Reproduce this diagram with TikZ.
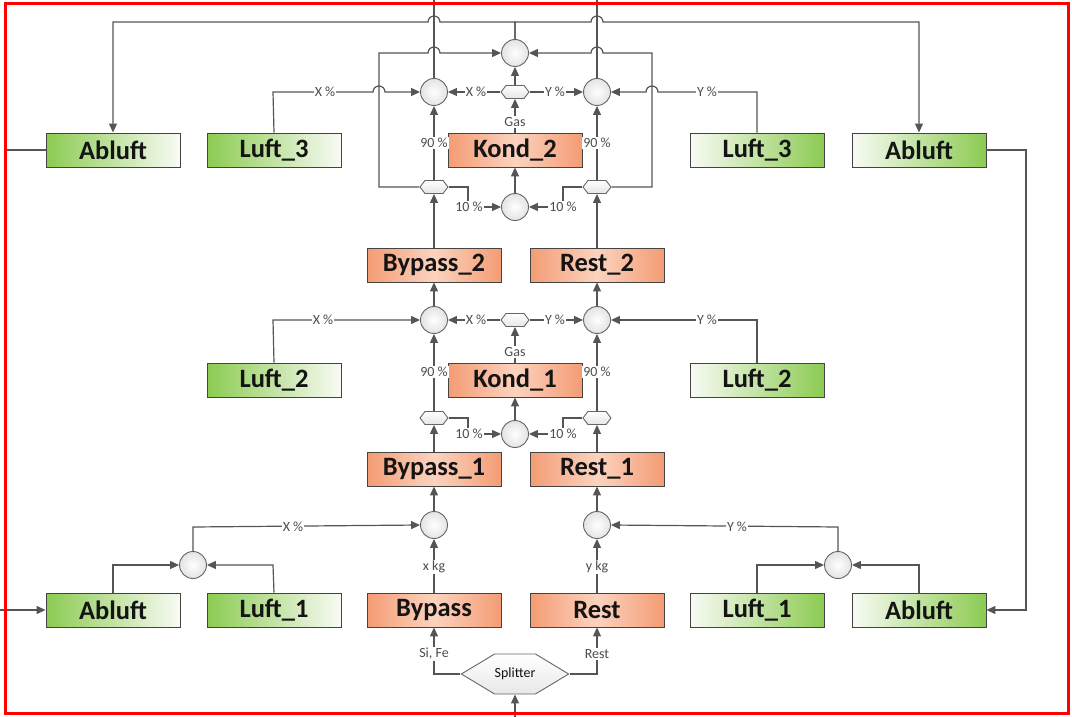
\documentclass[tikz,border=0pt]{standalone}
\usepackage{fontspec}
\setmainfont{Carlito}
\usetikzlibrary{arrows.meta,shapes.symbols}
\definecolor{ln}{HTML}{555555}
\definecolor{grn}{HTML}{8CCB52}
\definecolor{grnw}{HTML}{F8FBF4}
\definecolor{org}{HTML}{F49C74}
\definecolor{orgl}{HTML}{FBD3BF}
\definecolor{txt}{HTML}{141414}
\definecolor{lbltxt}{HTML}{4D4D4D}
\tikzset{
  box/.style={rectangle, draw=ln!80!black, line width=0.9pt, minimum width=134, minimum height=34,
    inner sep=0, text=txt, font=\fontsize{26.5}{30}\selectfont\bfseries},
  gboxL/.style={box, left color=grn, right color=grnw},
  gboxR/.style={box, left color=grnw, right color=grn},
  obox/.style={box, left color=org, right color=org, middle color=orgl},
  mix/.style={circle, draw=ln!90, line width=0.9pt, minimum size=27, inner sep=0,
    shading=radial, inner color=white, outer color=gray!22},
  hexs/.style={signal, signal to=east and west, signal pointer angle=105, draw=ln!90, line width=0.9pt,
    minimum width=28, minimum height=13, inner sep=0, top color=white, bottom color=gray!20},
  splitbox/.style={signal, signal to=east and west, signal pointer angle=62, draw=ln!90, line width=0.9pt,
    minimum width=103, minimum height=40, inner sep=0, top color=white, bottom color=gray!18,
    font=\fontsize{14}{16}\selectfont, text=txt},
  lbl/.style={fill=white, inner sep=1pt, text=lbltxt, font=\fontsize{14}{16}\selectfont},
  conn/.style={draw=ln, line width=1.2pt},
  arr/.style={conn, -{Triangle[length=9pt,width=8pt]}},
}
\begin{document}
\begin{tikzpicture}[x=1pt,y=-1pt]
\useasboundingbox (0,0) rectangle (1072,717);

% ---- boxes ----
\node[gboxL] (abTL) at (113,150) {Abluft};
\node[gboxL] (l3L)  at (274,150) {Luft\_3};
\node[obox]  (k2)   at (515,150) {Kond\_2};
\node[gboxR] (l3R)  at (757,150) {Luft\_3};
\node[gboxR] (abTR) at (919,150) {Abluft};

\node[obox] (b2) at (434,265) {Bypass\_2};
\node[obox] (r2) at (597,265) {Rest\_2};

\node[gboxL] (l2L) at (274,380) {Luft\_2};
\node[obox]  (k1)  at (515,380) {Kond\_1};
\node[gboxR] (l2R) at (757,380) {Luft\_2};

\node[obox] (b1) at (434,469) {Bypass\_1};
\node[obox] (r1) at (597,469) {Rest\_1};

\node[gboxL] (abBL) at (113,610) {Abluft};
\node[gboxL] (l1L)  at (274,610) {Luft\_1};
\node[obox]  (byp)  at (434,610) {Bypass};
\node[obox]  (rst)  at (597,610) {Rest};
\node[gboxR] (l1R)  at (757,610) {Luft\_1};
\node[gboxR] (abBR) at (919,610) {Abluft};

% ---- mixers and splitters ----
\node[mix] (mT)  at (515,53) {};
\node[mix] (mTL) at (434,92) {};
\node[mix] (mTR) at (597,92) {};
\node[hexs] (hG2) at (515,92) {};
\node[hexs] (hL2) at (434,187) {};
\node[hexs] (hR2) at (597,187) {};
\node[mix] (mK2) at (515,207) {};

\node[mix] (mML) at (434,320) {};
\node[mix] (mMR) at (597,320) {};
\node[hexs] (hG1) at (515,320) {};
\node[hexs] (hL1) at (434,418) {};
\node[hexs] (hR1) at (597,418) {};
\node[mix] (mK1) at (515,434) {};

\node[mix] (m1L) at (434,525) {};
\node[mix] (m1R) at (597,525) {};
\node[mix] (mAL) at (193,565) {};
\node[mix] (mAR) at (838,565) {};

\node[splitbox] (split) at (515,674) {Splitter};

% ---- free ends ----
\coordinate (top)   at (515,22);
\coordinate (outL)  at (434,0);
\coordinate (outR)  at (597,0);
\coordinate (inS)   at (515,717);
\coordinate (edgeT) at (5,150);
\coordinate (edgeB) at (0,610);

% ---- exhaust collection at the top ----
\draw[conn] (mTL.north) -- (outL);
\draw[conn] (mTR.north) -- (outR);
\draw[arr] (mT.north) -- (top) -- (440,22) arc[start angle=0,end angle=-180,radius=6] -- (113,22) -- (abTL.north);
\draw[arr] (mT.north) -- (top) -- (591,22) arc[start angle=180,end angle=360,radius=6] -- (919,22) -- (abTR.north);

% ---- level 3 ----
\draw[arr] (hL2.west) -- (379,187) -- (379,53) -- (428,53) arc[start angle=180,end angle=360,radius=6] -- (mT.west);
\draw[arr] (hR2.east) -- (652,187) -- (652,53) -- (603,53) arc[start angle=0,end angle=-180,radius=6] -- (mT.east);
\draw[arr] (l3L.north) -- (273,92) -- (373,92) arc[start angle=180,end angle=360,radius=6] -- (mTL.west);
\draw[arr] (l3R.north) -- (757,92) -- (658,92) arc[start angle=0,end angle=-180,radius=6] -- (mTR.east);
\draw[arr] (hG2.west) -- (mTL.east);
\draw[arr] (hG2.east) -- (mTR.west);
\draw[arr] (hG2.north) -- (mT.south);
\draw[arr] (k2.north) -- (hG2.south);
\draw[arr] (hL2.north) -- (mTL.south);
\draw[arr] (hR2.north) -- (mTR.south);
\draw[arr] (hL2.east) -- (468,187) -- (468,207) -- (mK2.west);
\draw[arr] (hR2.west) -- (563,187) -- (563,207) -- (mK2.east);
\draw[arr] (mK2.north) -- (k2.south);
\draw[arr] (b2.north) -- (hL2.south);
\draw[arr] (r2.north) -- (hR2.south);

% ---- level 2 ----
\draw[arr] (mML.north) -- (b2.south);
\draw[arr] (mMR.north) -- (r2.south);
\draw[arr] (l2L.north) -- (273,320) -- (mML.west);
\draw[arr] (l2R.north) -- (757,320) -- (mMR.east);
\draw[arr] (hG1.west) -- (mML.east);
\draw[arr] (hG1.east) -- (mMR.west);
\draw[arr] (k1.north) -- (hG1.south);
\draw[arr] (hL1.north) -- (mML.south);
\draw[arr] (hR1.north) -- (mMR.south);
\draw[arr] (hL1.east) -- (468,418) -- (468,434) -- (mK1.west);
\draw[arr] (hR1.west) -- (563,418) -- (563,434) -- (mK1.east);
\draw[arr] (mK1.north) -- (k1.south);
\draw[arr] (b1.north) -- (hL1.south);
\draw[arr] (r1.north) -- (hR1.south);

% ---- level 1 ----
\draw[arr] (m1L.north) -- (b1.south);
\draw[arr] (m1R.north) -- (r1.south);
\draw[arr] (byp.north) -- (m1L.south);
\draw[arr] (rst.north) -- (m1R.south);
\draw[arr] (mAL.north) -- (193,527) -- (m1L.west);
\draw[arr] (mAR.north) -- (838,527) -- (m1R.east);
\draw[arr] (abBL.north) -- (113,565) -- (mAL.west);
\draw[arr] (l1L.north) -- (273,565) -- (mAL.east);
\draw[arr] (l1R.north) -- (757,565) -- (mAR.west);
\draw[arr] (abBR.north) -- (919,565) -- (mAR.east);

% ---- splitter ----
\draw[arr] (inS) -- (split.south);
\draw[arr] (split.west) -- (434,674) -- (byp.south);
\draw[arr] (split.east) -- (597,674) -- (rst.south);

% ---- exhaust recirculation ----
\draw[conn] (abTL.west) -- (edgeT);
\draw[arr] (edgeB) -- (abBL.west);
\draw[arr] (abTR.east) -- (1026,150) -- (1026,610) -- (abBR.east);

% ---- labels ----
\node[lbl] (x3) at (325,92) {X \%};
\node[lbl] (y3) at (707,92) {Y \%};
\node[lbl] (xg2) at (476,92) {X \%};
\node[lbl] (yg2) at (555,92) {Y \%};
\node[lbl] (gas2) at (515,122) {Gas};
\node[lbl] (p90a) at (434,143) {90 \%};
\node[lbl] (p90b) at (597,143) {90 \%};
\node[lbl] (p10a) at (469,207) {10 \%};
\node[lbl] (p10b) at (563,207) {10 \%};

\node[lbl] (x2) at (323,320) {X \%};
\node[lbl] (y2) at (707,320) {Y \%};
\node[lbl] (xg1) at (476,320) {X \%};
\node[lbl] (yg1) at (555,320) {Y \%};
\node[lbl] (gas1) at (515,352) {Gas};
\node[lbl] (p90c) at (434,372) {90 \%};
\node[lbl] (p90d) at (597,372) {90 \%};
\node[lbl] (p10c) at (469,434) {10 \%};
\node[lbl] (p10d) at (563,434) {10 \%};

\node[lbl] (x1) at (293,527) {X \%};
\node[lbl] (y1) at (737,527) {Y \%};
\node[lbl] (xkg) at (434,567) {x kg};
\node[lbl] (ykg) at (597,567) {y kg};
\node[lbl] (sife) at (434,654) {Si, Fe};
\node[lbl] (rlab) at (597,654) {Rest};

% ---- frame ----
\draw[red, line width=3pt] (5,4) rectangle (1068,713);
\end{tikzpicture}
\end{document}
